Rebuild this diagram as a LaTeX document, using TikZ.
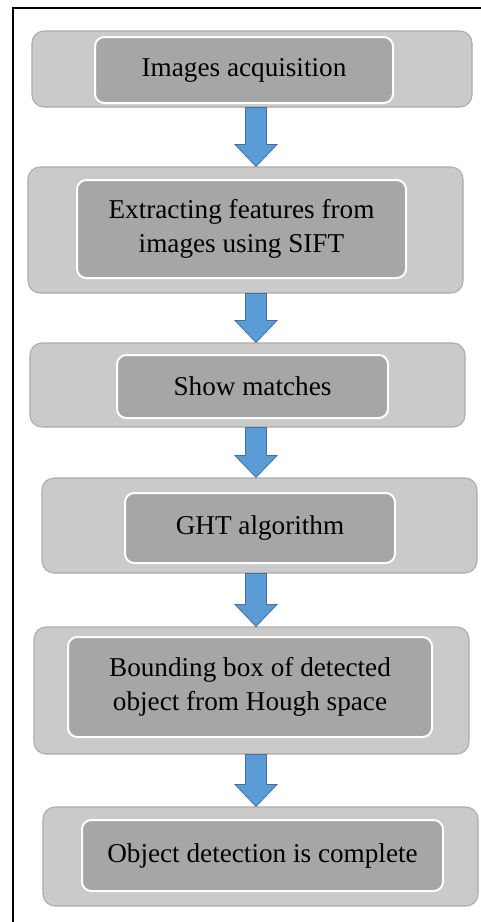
\documentclass[tikz,border=0pt]{standalone}
\usepackage{fontspec}
\setmainfont{Liberation Serif}
\usetikzlibrary{calc}
\definecolor{boxgray}{HTML}{CACACA}
\definecolor{boxedge}{HTML}{ABABAB}
\definecolor{stepgray}{HTML}{A6A6A6}
\definecolor{arrowblue}{HTML}{5B9BD5}
\definecolor{arrowedge}{HTML}{41719C}

\begin{document}
\begin{tikzpicture}[
    x=0.75pt, y=-0.75pt,
    font=\fontsize{20.4}{25}\selectfont,
    outer/.style={draw=boxedge, fill=boxgray, rounded corners=9pt, line width=0.8pt, inner sep=0pt},
    inner/.style={draw=white, fill=stepgray, rounded corners=7pt, line width=1.5pt, align=center, inner sep=0pt},
    blk/.style={draw=arrowedge, fill=arrowblue, line width=0.6pt, line join=miter},
]
  \useasboundingbox (0,0) rectangle (481,922);
  \draw[line width=1.5pt] (13,922) -- (13,8) -- (481,8);
  \node[outer, minimum width=330pt, minimum height=57pt] (o1) at (252,69) {};
  \node[outer, minimum width=326.25pt, minimum height=94.5pt] (o2) at (245.5,230) {};
  \node[outer, minimum width=326.25pt, minimum height=63pt] (o3) at (247.5,385) {};
  \node[outer, minimum width=326.25pt, minimum height=71.25pt] (o4) at (259.5,525.5) {};
  \node[outer, minimum width=326.25pt, minimum height=95.25pt] (o5) at (251.5,690.5) {};
  \node[outer, minimum width=326.25pt, minimum height=74.25pt] (o6) at (260.5,856.5) {};
  \node[inner, minimum width=223.5pt, minimum height=49.5pt] (acq) at (244,70) {Images acquisition};
  \node[inner, minimum width=246.75pt, minimum height=73.5pt] (sift) at (241.5,229) {Extracting features from\\images using SIFT};
  \node[inner, minimum width=203.25pt, minimum height=47.25pt] (match) at (252.5,386.5) {Show matches};
  \node[inner, minimum width=202.5pt, minimum height=52.5pt] (ght) at (260,528) {GHT algorithm};
  \node[inner, minimum width=273pt, minimum height=75pt] (bbox) at (250,687) {Bounding box of detected\\object from Hough space};
  \node[inner, minimum width=270.75pt, minimum height=53.25pt] (done) at (262.5,855.5) {Object detection is complete};
  \coordinate (ax) at (256,0);
  \foreach \a/\b in {o1/o2, o2/o3, o3/o4, o4/o5, o5/o6}
    \draw[blk] ($(\a.south -| ax)+(-10.5,0)$) -- ($(\b.north -| ax)+(-10.5,-22)$) -- ++(-10.5,0)
      -- (\b.north -| ax) -- ($(\b.north -| ax)+(21,-22)$) -- ++(-10.5,0)
      -- ($(\a.south -| ax)+(10.5,0)$) -- cycle;
\end{tikzpicture}
\end{document}
